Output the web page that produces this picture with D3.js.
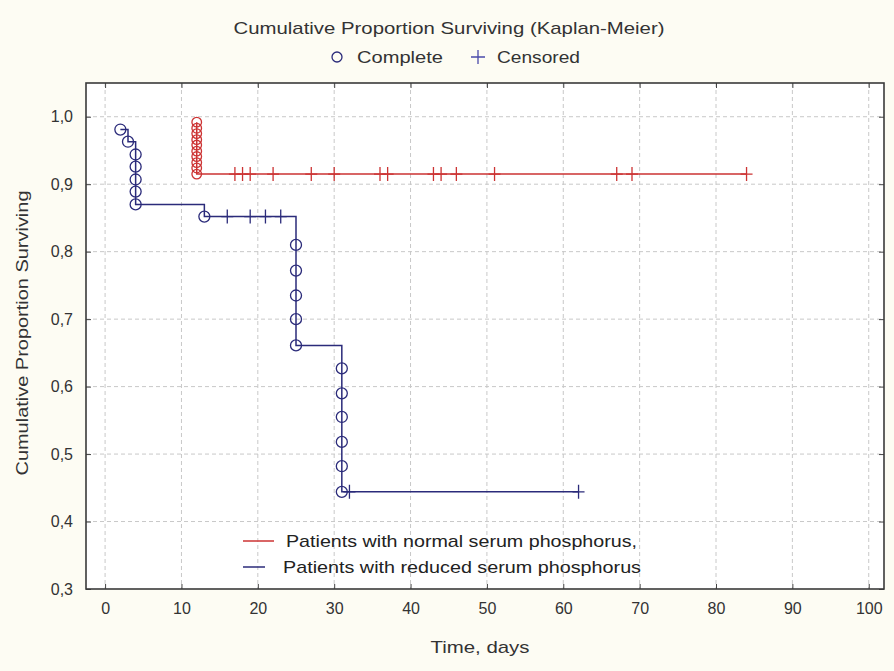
<!DOCTYPE html>
<html>
<head>
<meta charset="utf-8">
<script src="https://cdn.jsdelivr.net/npm/d3@7"></script>
<style>
  body { margin: 0; background: #fdfcf3; }
  svg { display: block; font-family: "Liberation Sans", Arial, sans-serif; }
</style>
</head>
<body>
<svg id="chart" width="894" height="671"></svg>
<script>
// Kaplan-Meier survival, two groups

// reduced serum phosphorus (blue)
var reducedEventTime = [2, 3, 4, 4, 4, 4, 4, 13, 25, 25, 25, 25, 25, 31, 31, 31, 31, 31, 31];
var reducedEventSurv = [0.981, 0.963, 0.944, 0.926, 0.907, 0.889, 0.870, 0.852,
                        0.810, 0.772, 0.735, 0.700, 0.661,
                        0.627, 0.590, 0.555, 0.518, 0.482, 0.444];
var reducedCensorTime = [16, 19, 21, 23, 32, 62];
var reducedCensorSurv = [0.852, 0.852, 0.852, 0.852, 0.444, 0.444];

// normal serum phosphorus (red)
var normalEventTime = [12, 12, 12, 12, 12, 12, 12, 12, 12, 12];
var normalEventSurv = [0.992, 0.983, 0.975, 0.966, 0.958, 0.949, 0.941, 0.932, 0.924, 0.915];
var normalCensorTime = [17, 18, 19, 22, 27, 30, 36, 37, 43, 44, 46, 51, 67, 69, 84];
var normalCensorSurv = [0.915, 0.915, 0.915, 0.915, 0.915, 0.915, 0.915, 0.915,
                        0.915, 0.915, 0.915, 0.915, 0.915, 0.915, 0.915];

var xTicks = [0, 10, 20, 30, 40, 50, 60, 70, 80, 90, 100];
var yTicks = [0.3, 0.4, 0.5, 0.6, 0.7, 0.8, 0.9, 1.0];

var svg = d3.select("#chart");

var pLeft = 86, pRight = 884, pTop = 83, pBottom = 589;

var x = d3.scaleLinear().domain([-2.5, 102]).range([pLeft, pRight]);
var y = d3.scaleLinear().domain([0.3, 1.05]).range([pBottom, pTop]);

var red = "#cc3333", blue = "#2b2b7a";

svg.append("rect")
    .attr("x", pLeft).attr("y", pTop)
    .attr("width", pRight - pLeft).attr("height", pBottom - pTop)
    .attr("fill", "#ffffff");

// grid
var grid = svg.append("g").attr("stroke", "#c8c8c8").attr("stroke-dasharray", "4,3");
grid.selectAll(".gx").data(xTicks).enter().append("line")
    .attr("x1", function (d) { return x(d); }).attr("x2", function (d) { return x(d); })
    .attr("y1", pTop).attr("y2", pBottom);
grid.selectAll(".gy").data(yTicks.slice(1)).enter().append("line")
    .attr("x1", pLeft).attr("x2", pRight)
    .attr("y1", function (d) { return y(d); }).attr("y2", function (d) { return y(d); });

// axes (ticks inside)
var fmt = function (d) { return d3.format(".1f")(d).replace(".", ","); };

var xAxis = svg.append("g")
    .attr("transform", "translate(0," + pBottom + ")")
    .call(d3.axisBottom(x).tickValues(xTicks).tickSize(-5).tickPadding(14));
var xAxisTop = svg.append("g")
    .attr("transform", "translate(0," + pTop + ")")
    .call(d3.axisTop(x).tickValues(xTicks).tickSize(-5).tickFormat(""));
var yAxis = svg.append("g")
    .attr("transform", "translate(" + pLeft + ",0)")
    .call(d3.axisLeft(y).tickValues(yTicks).tickSize(-5).tickPadding(13).tickFormat(fmt));
var yAxisRight = svg.append("g")
    .attr("transform", "translate(" + pRight + ",0)")
    .call(d3.axisRight(y).tickValues(yTicks).tickSize(-5).tickFormat(""));

[xAxis, xAxisTop, yAxis, yAxisRight].forEach(function (a) {
    a.select(".domain").remove();
    a.selectAll(".tick line").attr("stroke", "#444");
    a.selectAll("text").attr("font-size", 16).attr("fill", "#333")
        .attr("font-family", "Liberation Sans, Arial, sans-serif");
});

svg.append("rect")
    .attr("x", pLeft).attr("y", pTop)
    .attr("width", pRight - pLeft).attr("height", pBottom - pTop)
    .attr("fill", "none").attr("stroke", "#3a3a3a").attr("stroke-width", 1.6);

// clip
svg.append("clipPath").attr("id", "plotClip").append("rect")
    .attr("x", pLeft).attr("y", pTop).attr("width", pRight - pLeft).attr("height", pBottom - pTop);

var plot = svg.append("g").attr("clip-path", "url(#plotClip)");

var stepLine = d3.line()
    .x(function (d) { return x(d[0]); })
    .y(function (d) { return y(d[1]); })
    .curve(d3.curveStepAfter);

function drawSeries(evT, evS, ceT, ceS, color, r) {
    var pts = evT.map(function (t, i) { return [t, evS[i]]; });
    var lastC = ceT.length - 1;
    pts.push([ceT[lastC], ceS[lastC]]);

    plot.append("path")
        .attr("d", stepLine(pts))
        .attr("fill", "none")
        .attr("stroke", color)
        .attr("stroke-width", 1.5);

    plot.selectAll(null)
        .data(evT.map(function (t, i) { return [t, evS[i]]; }))
        .enter().append("circle")
        .attr("cx", function (d) { return x(d[0]); })
        .attr("cy", function (d) { return y(d[1]); })
        .attr("r", r)
        .attr("fill", "none")
        .attr("stroke", color)
        .attr("stroke-width", 1.3);

    plot.selectAll(null)
        .data(ceT.map(function (t, i) { return [t, ceS[i]]; }))
        .enter().append("path")
        .attr("d", function (d) {
            var cx = x(d[0]), cy = y(d[1]);
            return "M" + (cx - 6) + "," + cy + "H" + (cx + 6) + "M" + cx + "," + (cy - 7) + "V" + (cy + 7);
        })
        .attr("stroke", color)
        .attr("stroke-width", 1.3);
}

drawSeries(normalEventTime, normalEventSurv, normalCensorTime, normalCensorSurv, red, 4.8);
drawSeries(reducedEventTime, reducedEventSurv, reducedCensorTime, reducedCensorSurv, blue, 5.5);

// titles
svg.append("text")
    .attr("x", 449).attr("y", 34)
    .attr("text-anchor", "middle")
    .attr("font-size", 17).attr("fill", "#333")
    .attr("textLength", 431).attr("lengthAdjust", "spacingAndGlyphs")
    .text("Cumulative Proportion Surviving (Kaplan-Meier)");

svg.append("circle").attr("cx", 337).attr("cy", 57).attr("r", 5)
    .attr("fill", "none").attr("stroke", blue).attr("stroke-width", 1.3);
svg.append("text").attr("x", 357).attr("y", 63)
    .attr("font-size", 17).attr("fill", "#333")
    .attr("textLength", 86).attr("lengthAdjust", "spacingAndGlyphs")
    .text("Complete");
svg.append("path").attr("d", "M471,57H485M478,50V64")
    .attr("stroke", "#4a4aaa").attr("stroke-width", 1.3);
svg.append("text").attr("x", 497).attr("y", 63)
    .attr("font-size", 17).attr("fill", "#333")
    .attr("textLength", 83).attr("lengthAdjust", "spacingAndGlyphs")
    .text("Censored");

svg.append("text")
    .attr("transform", "translate(28,333) rotate(-90)")
    .attr("text-anchor", "middle")
    .attr("font-size", 17).attr("fill", "#333")
    .attr("textLength", 285).attr("lengthAdjust", "spacingAndGlyphs")
    .text("Cumulative Proportion Surviving");

svg.append("text")
    .attr("x", 480).attr("y", 653)
    .attr("text-anchor", "middle")
    .attr("font-size", 17).attr("fill", "#333")
    .attr("textLength", 99).attr("lengthAdjust", "spacingAndGlyphs")
    .text("Time, days");

// series legend
var legendRows = [
    { label: "Patients with normal serum phosphorus,", color: red, y: 541, tx: 286, len: 351, lx2: 274 },
    { label: "Patients with reduced serum phosphorus", color: blue, y: 567, tx: 283, len: 358, lx2: 265 }
];
legendRows.forEach(function (row) {
    svg.append("line")
        .attr("x1", 243).attr("x2", row.lx2)
        .attr("y1", row.y).attr("y2", row.y)
        .attr("stroke", row.color).attr("stroke-width", 1.5);
    svg.append("text")
        .attr("x", row.tx).attr("y", row.y + 6)
        .attr("font-size", 17).attr("fill", "#222")
        .attr("textLength", row.len).attr("lengthAdjust", "spacingAndGlyphs")
        .text(row.label);
});
</script>
</body>
</html>
